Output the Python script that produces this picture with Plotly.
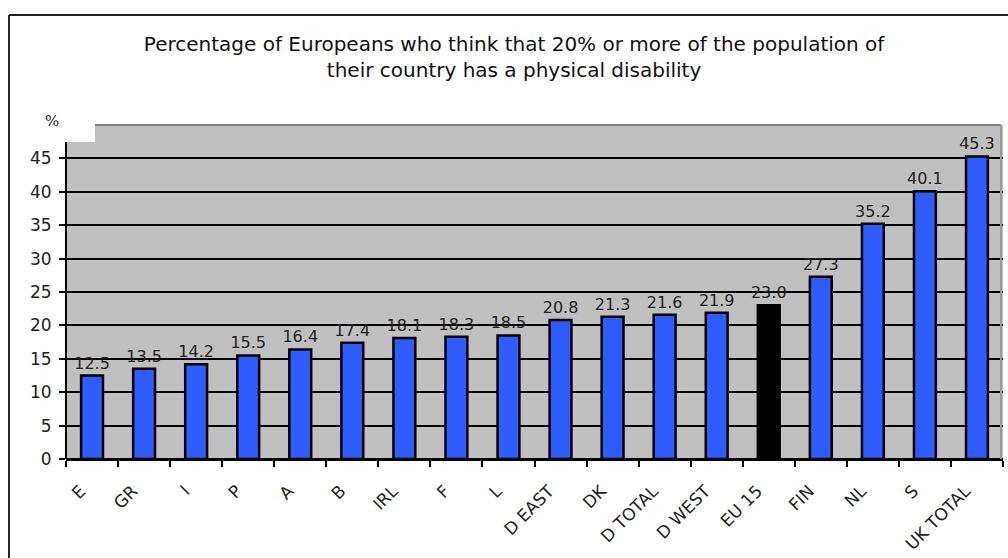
import plotly.graph_objects as go

# Survey results: share of respondents per country
countries = ["E", "GR", "I", "P", "A", "B", "IRL", "F", "L", "D EAST", "DK",
             "D TOTAL", "D WEST", "EU 15", "FIN", "NL", "S", "UK TOTAL"]
values = [12.5, 13.5, 14.2, 15.5, 16.4, 17.4, 18.1, 18.3, 18.5, 20.8, 21.3,
          21.6, 21.9, 23.0, 27.3, 35.2, 40.1, 45.3]
y_ticks = [0, 5, 10, 15, 20, 25, 30, 35, 40, 45]

BLUE = "#2f5cff"
colors = ["#000000" if c == "EU 15" else BLUE for c in countries]

W, H = 1008, 558
ML, MR, MT, MB = 66, 5, 125, 99
PW, PH = W - ML - MR, H - MT - MB
Y_MAX = 50


def px_x(px):
    return (px - ML) / PW


def px_y(py):
    return (H - MB - py) / PH


FONT = "DejaVu Sans, Arial, sans-serif"

fig = go.Figure(go.Bar(
    x=countries,
    y=values,
    marker=dict(color=colors, line=dict(color="#000000", width=2.5)),
    width=0.42,
    texttemplate="%{y:.1f}",
    textposition="outside",
    constraintext="none",
    textfont=dict(family=FONT, size=16, color="#222222"),
    cliponaxis=False,
    hoverinfo="x+y",
))

shapes = [
    # white notch in the top-left corner of the plotting area
    dict(type="rect", xref="paper", yref="paper", x0=0, x1=px_x(95),
         y0=px_y(142), y1=1.0, fillcolor="white", line=dict(width=0),
         layer="above"),
    # darker grey frame along the top and right of the plotting area
    dict(type="line", xref="paper", yref="paper", x0=px_x(95), x1=px_x(1001),
         y0=1.0, y1=1.0, line=dict(color="#7f7f7f", width=2), layer="above"),
    dict(type="line", xref="paper", yref="paper", x0=px_x(1001), x1=px_x(1001),
         y0=0, y1=1.0, line=dict(color="#9a9a9a", width=2), layer="above"),
    # value axis line
    dict(type="line", xref="paper", yref="paper", x0=0, x1=0,
         y0=0, y1=px_y(142), line=dict(color="#000000", width=2), layer="above"),
    # outer chart frame
    dict(type="line", xref="paper", yref="paper", x0=px_x(9), x1=px_x(1012),
         y0=px_y(15), y1=px_y(15), line=dict(color="#222222", width=2)),
    dict(type="line", xref="paper", yref="paper", x0=px_x(9), x1=px_x(9),
         y0=px_y(15), y1=px_y(562), line=dict(color="#222222", width=2)),
]

# category labels end a little before the bar centre
tick_text = [c + "\u00a0\u00a0\u00a0" for c in countries]

fig.update_layout(
    width=W, height=H,
    margin=dict(l=ML, r=MR, t=MT, b=MB, pad=0, autoexpand=False),
    paper_bgcolor="white",
    plot_bgcolor="#c0c0c0",
    showlegend=False,
    font=dict(family=FONT, size=14, color="#222222"),
    title=dict(
        text="Percentage of Europeans who think that 20% or more of the population of<br>"
             "their country has a physical disability",
        x=0.51, xref="container", xanchor="center",
        y=1 - 51 / H, yref="container", yanchor="top",
        font=dict(family=FONT, size=20, color="#111111"),
    ),
    xaxis=dict(
        type="category",
        automargin=False,
        tickangle=-45,
        tickson="boundaries",
        tickvals=countries, ticktext=tick_text,
        ticks="outside", ticklen=6, tickwidth=1.5, tickcolor="#000000",
        showline=True, linecolor="#000000", linewidth=2,
        showgrid=False,
        tickfont=dict(family=FONT, size=17, color="#222222"),
        ticklabelstandoff=2,
    ),
    yaxis=dict(
        range=[0, Y_MAX],
        automargin=False,
        tickvals=y_ticks,
        ticks="outside", ticklen=6, tickwidth=1.5, tickcolor="#000000",
        showline=False,
        showgrid=True, gridcolor="#000000", gridwidth=1.5,
        zeroline=True, zerolinecolor="#000000", zerolinewidth=2,
        tickfont=dict(family=FONT, size=17, color="#222222"),
        ticklabelstandoff=4,
    ),
    shapes=shapes,
    annotations=[
        dict(text="%", xref="paper", yref="paper", x=px_x(52), y=px_y(121),
             xanchor="center", yanchor="middle", showarrow=False,
             font=dict(family="DejaVu Serif, serif", size=15, color="#222222")),
    ],
)

fig.write_html("out.html")
